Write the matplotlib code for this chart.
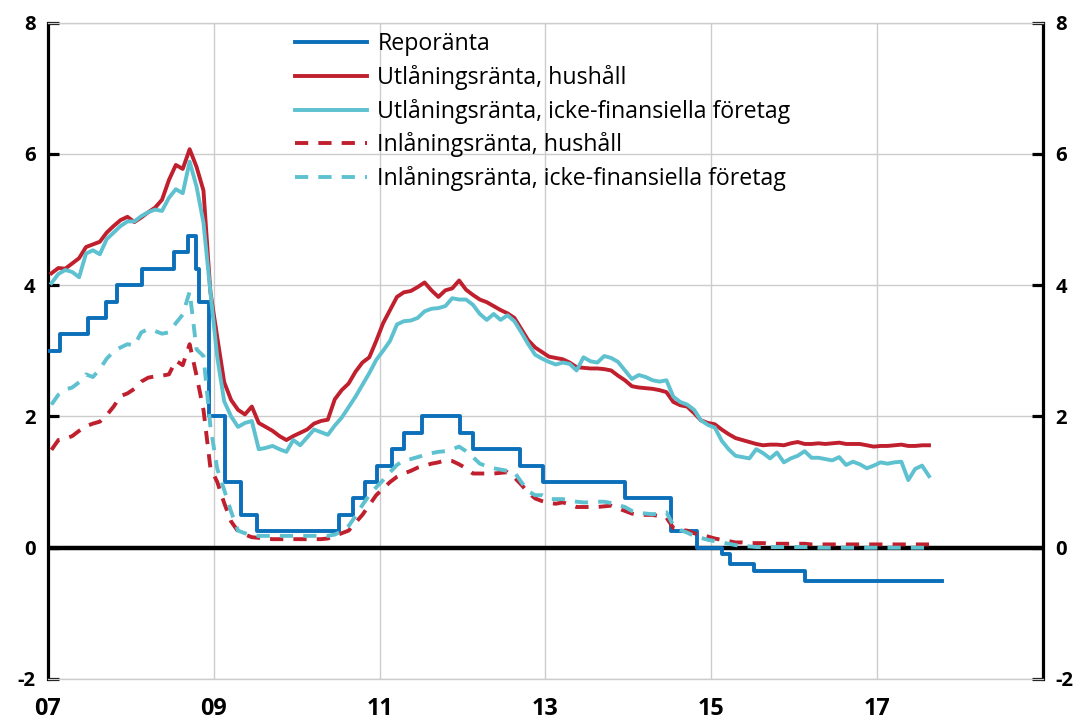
import matplotlib
matplotlib.use("Agg")
import matplotlib.pyplot as plt
import numpy as np
import pandas as pd
from matplotlib import font_manager
from matplotlib.font_manager import FontProperties

plt.rcParams["axes.unicode_minus"] = False

# ---------------- data ----------------
repo_dates = ["2007-01-01", "2007-02-21", "2007-06-27", "2007-09-12", "2007-11-02",
              "2008-02-20", "2008-07-09", "2008-09-10", "2008-10-15", "2008-10-29",
              "2008-12-10", "2009-02-18", "2009-04-29", "2009-07-08", "2010-07-07",
              "2010-09-07", "2010-10-27", "2010-12-20", "2011-02-23", "2011-04-20",
              "2011-07-06", "2011-12-20", "2012-02-15", "2012-09-12", "2012-12-19",
              "2013-12-18", "2014-07-09", "2014-10-29", "2015-02-18", "2015-03-25",
              "2015-07-08", "2016-02-17", "2017-10-15"]
repo_rate = [3.00, 3.25, 3.50, 3.75, 4.00,
             4.25, 4.50, 4.75, 4.25, 3.75,
             2.00, 1.00, 0.50, 0.25, 0.50,
             0.75, 1.00, 1.25, 1.50, 1.75,
             2.00, 1.75, 1.50, 1.25, 1.00,
             0.75, 0.25, 0.00, -0.10, -0.25,
             -0.35, -0.50, -0.50]

month_start, month_end = "2007-01", "2017-08"

lend_households = [
    4.18, 4.26, 4.25, 4.33, 4.41, 4.58, 4.62, 4.66, 4.80, 4.90, 4.99, 5.04,
    4.96, 5.03, 5.11, 5.18, 5.30, 5.60, 5.83, 5.77, 6.07, 5.80, 5.44, 3.90,
    3.20, 2.52, 2.25, 2.10, 2.03, 2.15, 1.90, 1.84, 1.78, 1.70, 1.64, 1.70,
    1.75, 1.80, 1.89, 1.93, 1.95, 2.26, 2.40, 2.50, 2.68, 2.82, 2.90, 3.15,
    3.42, 3.62, 3.82, 3.89, 3.91, 3.97, 4.04, 3.92, 3.82, 3.92, 3.95, 4.07,
    3.93, 3.85, 3.78, 3.74, 3.68, 3.62, 3.57, 3.50, 3.33, 3.16, 3.05, 2.98,
    2.91, 2.89, 2.87, 2.82, 2.75, 2.74, 2.73, 2.73, 2.72, 2.70, 2.62, 2.55,
    2.46, 2.44, 2.43, 2.42, 2.40, 2.37, 2.22, 2.17, 2.15, 2.05, 1.94, 1.90,
    1.88, 1.80, 1.73, 1.67, 1.64, 1.61, 1.58, 1.56, 1.57, 1.57, 1.56, 1.59,
    1.61, 1.58, 1.58, 1.59, 1.58, 1.59, 1.60, 1.58, 1.58, 1.58, 1.56, 1.54,
    1.55, 1.55, 1.56, 1.57, 1.55, 1.55, 1.56, 1.56]

lend_companies = [
    4.03, 4.17, 4.23, 4.20, 4.12, 4.48, 4.53, 4.47, 4.70, 4.80, 4.90, 4.97,
    4.97, 5.05, 5.11, 5.15, 5.13, 5.33, 5.46, 5.40, 5.88, 5.50, 4.95, 3.90,
    2.90, 2.23, 2.00, 1.84, 1.90, 1.93, 1.50, 1.52, 1.55, 1.50, 1.46, 1.64,
    1.56, 1.68, 1.80, 1.76, 1.72, 1.86, 1.98, 2.14, 2.30, 2.48, 2.66, 2.86,
    3.00, 3.15, 3.40, 3.45, 3.46, 3.50, 3.60, 3.64, 3.65, 3.68, 3.80, 3.78,
    3.78, 3.70, 3.56, 3.47, 3.56, 3.47, 3.54, 3.45, 3.28, 3.10, 2.94, 2.88,
    2.83, 2.79, 2.82, 2.80, 2.70, 2.90, 2.84, 2.82, 2.92, 2.89, 2.83, 2.70,
    2.57, 2.63, 2.60, 2.55, 2.53, 2.55, 2.30, 2.22, 2.18, 2.10, 1.94, 1.87,
    1.83, 1.63, 1.50, 1.40, 1.38, 1.36, 1.50, 1.44, 1.36, 1.45, 1.30, 1.36,
    1.40, 1.47, 1.37, 1.37, 1.35, 1.33, 1.38, 1.26, 1.31, 1.27, 1.21, 1.25,
    1.30, 1.28, 1.30, 1.31, 1.03, 1.20, 1.25, 1.09]

dep_households = [
    1.49, 1.64, 1.66, 1.70, 1.78, 1.85, 1.89, 1.92, 2.02, 2.15, 2.31, 2.35,
    2.42, 2.53, 2.59, 2.61, 2.62, 2.64, 2.85, 2.78, 3.10, 2.62, 2.10, 1.22,
    1.00, 0.68, 0.40, 0.25, 0.20, 0.16, 0.15, 0.14, 0.13, 0.13, 0.13, 0.13,
    0.13, 0.13, 0.13, 0.13, 0.14, 0.18, 0.22, 0.26, 0.38, 0.50, 0.65, 0.80,
    0.90, 1.00, 1.08, 1.13, 1.17, 1.22, 1.25, 1.28, 1.30, 1.33, 1.32, 1.27,
    1.21, 1.13, 1.13, 1.13, 1.13, 1.14, 1.15, 1.07, 0.96, 0.84, 0.75, 0.71,
    0.68, 0.67, 0.69, 0.66, 0.62, 0.62, 0.62, 0.62, 0.63, 0.64, 0.60, 0.56,
    0.52, 0.50, 0.50, 0.50, 0.48, 0.46, 0.30, 0.27, 0.26, 0.22, 0.19, 0.17,
    0.14, 0.12, 0.10, 0.08, 0.08, 0.07, 0.07, 0.07, 0.06, 0.06, 0.06, 0.06,
    0.06, 0.06, 0.05, 0.05, 0.05, 0.05, 0.05, 0.05, 0.05, 0.05, 0.05, 0.05,
    0.05, 0.05, 0.05, 0.05, 0.05, 0.05, 0.05, 0.05]

dep_companies = [
    2.18, 2.33, 2.41, 2.44, 2.52, 2.64, 2.60, 2.72, 2.88, 2.99, 3.05, 3.10,
    3.08, 3.28, 3.33, 3.30, 3.26, 3.28, 3.42, 3.55, 3.90, 3.02, 2.92, 1.85,
    1.20, 0.88, 0.55, 0.26, 0.22, 0.19, 0.18, 0.18, 0.18, 0.18, 0.18, 0.18,
    0.18, 0.18, 0.18, 0.18, 0.18, 0.20, 0.25, 0.33, 0.48, 0.65, 0.80, 0.92,
    1.03, 1.15, 1.26, 1.33, 1.35, 1.38, 1.41, 1.44, 1.46, 1.47, 1.50, 1.54,
    1.47, 1.38, 1.28, 1.24, 1.21, 1.19, 1.17, 1.15, 1.00, 0.86, 0.80, 0.80,
    0.74, 0.74, 0.74, 0.72, 0.70, 0.69, 0.69, 0.70, 0.70, 0.68, 0.65, 0.62,
    0.56, 0.53, 0.52, 0.51, 0.52, 0.54, 0.34, 0.27, 0.23, 0.18, 0.15, 0.12,
    0.10, 0.08, 0.06, 0.04, 0.02, 0.02, 0.01, 0.01, 0.01, 0.01, 0.01, 0.01,
    0.01, 0.01, 0.01, 0.00, 0.00, 0.00, 0.00, 0.00, 0.00, 0.00, 0.00, 0.00,
    0.00, 0.00, 0.00, 0.00, 0.00, 0.00, 0.00, 0.00]

labels = ["Reporänta",
          "Utlåningsränta, hushåll",
          "Utlåningsränta, icke-finansiella företag",
          "Inlåningsränta, hushåll",
          "Inlåningsränta, icke-finansiella företag"]

x_ticks = [2007, 2009, 2011, 2013, 2015, 2017]
x_ticklabels = ["07", "09", "11", "13", "15", "17"]
y_ticks = [-2, 0, 2, 4, 6, 8]
y_ticklabels = ["-2", "0", "2", "4", "6", "8"]

# ---------------- helpers ----------------
def frac_year(dates):
    d = pd.to_datetime(dates)
    days = np.where(d.is_leap_year, 366, 365)
    return np.asarray(d.year + (d.dayofyear - 1) / days, dtype=float)

months = pd.period_range(month_start, month_end, freq="M")
xm = np.asarray(months.year + (months.month - 0.5) / 12.0, dtype=float)
xr = frac_year(repo_dates)

names = {f.name for f in font_manager.fontManager.ttflist}
FONT = "Open Sans" if "Open Sans" in names else "DejaVu Sans"
fp_x = FontProperties(family=FONT, weight="bold", size=16.8)
fp_y = FontProperties(family=FONT, weight="bold", size=14.6)
fp_leg = FontProperties(family=FONT, weight="normal", size=16.7)

BLUE = "#0b6fba"
RED = "#c0202e"
CYAN = "#5ec1d0"
LW = 2.8
DASH = (0, (3.4, 2.6))
GRID = "#cccccc"

# ---------------- figure ----------------
W, H = 1079, 725
fig = plt.figure(figsize=(W / 100, H / 100), dpi=100)
L, R, T, B = 48, 1043, 22.5, 679
ax = fig.add_axes([L / W, 1 - B / H, (R - L) / W, (B - T) / H])

ax.set_xlim(2007, 2019)
ax.set_ylim(-2, 8)

ax.grid(True, color=GRID, lw=1.0, zorder=0)
ax.set_axisbelow(True)
ax.axhline(0, color="black", lw=3.2, zorder=1.5)

ax.step(xr, repo_rate, where="post", color=BLUE, lw=LW, label=labels[0], zorder=3)
ax.plot(xm, lend_households, color=RED, lw=LW, label=labels[1], zorder=3)
ax.plot(xm, lend_companies, color=CYAN, lw=LW, label=labels[2], zorder=3)
ax.plot(xm, dep_households, color=RED, lw=LW, ls=DASH, label=labels[3], zorder=3)
ax.plot(xm, dep_companies, color=CYAN, lw=LW, ls=DASH, label=labels[4], zorder=3)

ax.set_xticks(x_ticks)
ax.set_xticklabels(x_ticklabels, fontproperties=fp_x)
ax.set_yticks(y_ticks)
ax.set_yticklabels(y_ticklabels, fontproperties=fp_y)

for s in ("left", "right"):
    ax.spines[s].set_color("black")
    ax.spines[s].set_linewidth(2.3)
for s in ("top", "bottom"):
    ax.spines[s].set_color(GRID)
    ax.spines[s].set_linewidth(1.0)

ax.tick_params(axis="y", which="major", left=True, right=True, labelleft=True,
               labelright=True, direction="in", length=8, width=2.3,
               color="black", pad=9)
ax.tick_params(axis="x", which="both", length=0, pad=13)
for t in ax.yaxis.get_major_ticks():
    t.label2.set_fontproperties(fp_y)

leg = ax.legend(loc="upper left",
                bbox_to_anchor=((295 - L) / (R - L), (B - 32) / (B - T)),
                frameon=False, borderaxespad=0, borderpad=0,
                handlelength=3.1, handletextpad=0.45, labelspacing=0.38,
                prop=fp_leg)

fig.savefig("out.png", dpi=100)
